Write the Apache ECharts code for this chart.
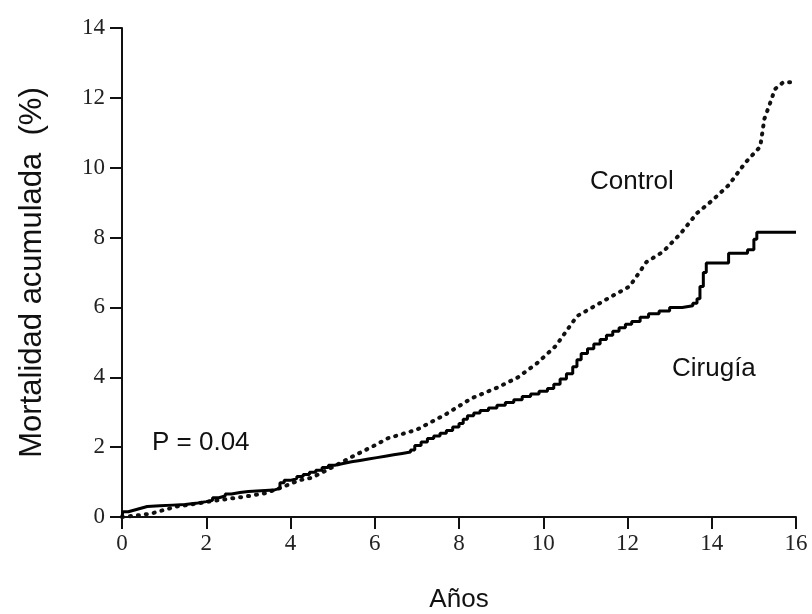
<!DOCTYPE html>
<html>
<head>
<meta charset="utf-8">
<script src="https://cdn.jsdelivr.net/npm/echarts@6/dist/echarts.min.js"></script>
<style>
  html, body { margin: 0; padding: 0; background: #fff; }
  #chart { width: 812px; height: 614px; }
</style>
</head>
<body>
<div id="chart"></div>
<script>
// Cirugía (línea continua, escalonada)
var cirugiaYears = [0, 0.02, 0.15, 0.3, 0.45, 0.6, 0.9, 1.2, 1.5, 1.8, 2.0, 2.15, 2.3, 2.45, 2.6, 2.8, 3.0, 3.3, 3.6, 3.75, 3.85, 4.0, 4.15, 4.3, 4.45, 4.6, 4.75, 4.9, 5.05, 5.25, 5.45, 5.65, 5.85, 6.05, 6.25, 6.45, 6.65, 6.85, 6.95, 7.1, 7.25, 7.4, 7.55, 7.7, 7.85, 8.0, 8.1, 8.2, 8.35, 8.5, 8.7, 8.9, 9.1, 9.3, 9.5, 9.7, 9.9, 10.1, 10.25, 10.4, 10.55, 10.7, 10.8, 10.9, 11.05, 11.2, 11.35, 11.5, 11.65, 11.8, 11.95, 12.1, 12.3, 12.5, 12.75, 13.0, 13.3, 13.55, 13.65, 13.72, 13.8, 13.87, 14.4, 14.85, 15.0, 15.07, 16];
var cirugiaValues = [0, 0.15, 0.2, 0.25, 0.3, 0.32, 0.34, 0.36, 0.4, 0.44, 0.48, 0.55, 0.6, 0.66, 0.7, 0.73, 0.75, 0.77, 0.82, 0.98, 1.05, 1.1, 1.16, 1.22, 1.28, 1.34, 1.42, 1.48, 1.53, 1.58, 1.62, 1.66, 1.7, 1.74, 1.78, 1.82, 1.86, 1.92, 2.05, 2.15, 2.25, 2.32, 2.4, 2.48, 2.58, 2.68, 2.8, 2.9, 2.98, 3.05, 3.12, 3.2, 3.28, 3.36, 3.45, 3.52, 3.6, 3.68, 3.8, 3.95, 4.1, 4.3, 4.5, 4.68, 4.82, 4.95, 5.08, 5.2, 5.32, 5.42, 5.52, 5.6, 5.72, 5.82, 5.9, 6.0, 6.05, 6.12, 6.25, 6.6, 7.0, 7.27, 7.55, 7.65, 7.95, 8.15, 8.15];

// Control (línea punteada)
var controlYears = [0, 0.4, 0.7, 0.9, 1.3, 1.7, 2.1, 2.9, 3.4, 3.8, 4.2, 4.5, 5.0, 5.5, 6.0, 6.3, 7.0, 7.7, 8.3, 8.9, 9.4, 9.85, 10.3, 10.8, 11.6, 12.05, 12.45, 12.85, 13.25, 13.65, 14.0, 14.4, 14.8, 15.15, 15.25, 15.4, 15.5, 15.7, 16];
var controlValues = [0, 0.05, 0.1, 0.17, 0.3, 0.37, 0.45, 0.58, 0.68, 0.85, 1.05, 1.12, 1.43, 1.75, 2.05, 2.25, 2.5, 2.95, 3.4, 3.7, 4.0, 4.4, 4.9, 5.75, 6.3, 6.6, 7.3, 7.6, 8.1, 8.7, 9.05, 9.5, 10.15, 10.6, 11.4, 11.9, 12.25, 12.45, 12.45];

var xTicks = [0, 2, 4, 6, 8, 10, 12, 14, 16];
var yTicks = [0, 2, 4, 6, 8, 10, 12, 14];

function pairs(xs, ys) {
    return xs.map(function (x, i) { return [x, ys[i]]; });
}

var tickFont = {
    fontFamily: 'Liberation Serif',
    fontSize: 23,
    color: '#222'
};

var chart = echarts.init(document.getElementById('chart'));

var option = {
    animation: false,
    backgroundColor: '#fff',
    grid: {
        left: 122,
        right: 16,
        top: 28,
        bottom: 97,
        outerBoundsMode: 'none'
    },
    xAxis: {
        type: 'value',
        min: 0,
        max: 16,
        interval: 2,
        name: 'Años',
        nameLocation: 'middle',
        nameGap: 70,
        nameTextStyle: { fontFamily: 'Liberation Sans', fontSize: 26, color: '#111' },
        axisLine: { lineStyle: { color: '#111', width: 2 } },
        axisTick: { length: 12, lineStyle: { color: '#111', width: 2 } },
        axisLabel: Object.assign({ margin: 15, formatter: function (v) { return xTicks.indexOf(v) >= 0 ? v : ''; } }, tickFont),
        splitLine: { show: false }
    },
    yAxis: {
        type: 'value',
        min: 0,
        max: 14,
        interval: 2,
        name: 'Mortalidad acumulada  (%)',
        nameLocation: 'middle',
        nameGap: 74,
        nameRotate: 90,
        nameTextStyle: { fontFamily: 'Liberation Sans', fontSize: 31, color: '#111' },
        axisLine: { lineStyle: { color: '#111', width: 2 } },
        axisTick: { length: 12, lineStyle: { color: '#111', width: 2 } },
        axisLabel: Object.assign({ margin: 17, formatter: function (v) { return yTicks.indexOf(v) >= 0 ? v : ''; } }, tickFont),
        splitLine: { show: false }
    },
    graphic: [
        { type: 'text', left: 590, top: 169, style: { text: 'Control', font: '26px "Liberation Sans"', fill: '#111' } },
        { type: 'text', left: 672, top: 356, style: { text: 'Cirugía', font: '26px "Liberation Sans"', fill: '#111' } },
        { type: 'text', left: 152, top: 430, style: { text: 'P = 0.04', font: '26px "Liberation Sans"', fill: '#111' } }
    ],
    series: [
        {
            name: 'Cirugía',
            type: 'line',
            step: 'end',
            showSymbol: false,
            data: pairs(cirugiaYears, cirugiaValues),
            lineStyle: { color: '#000', width: 3 },
            z: 3
        },
        {
            name: 'Control',
            type: 'line',
            showSymbol: false,
            data: pairs(controlYears, controlValues),
            lineStyle: { color: '#111', width: 4, type: [1, 7], cap: 'round' },
            z: 2
        }
    ]
};

chart.setOption(option);
</script>
</body>
</html>
